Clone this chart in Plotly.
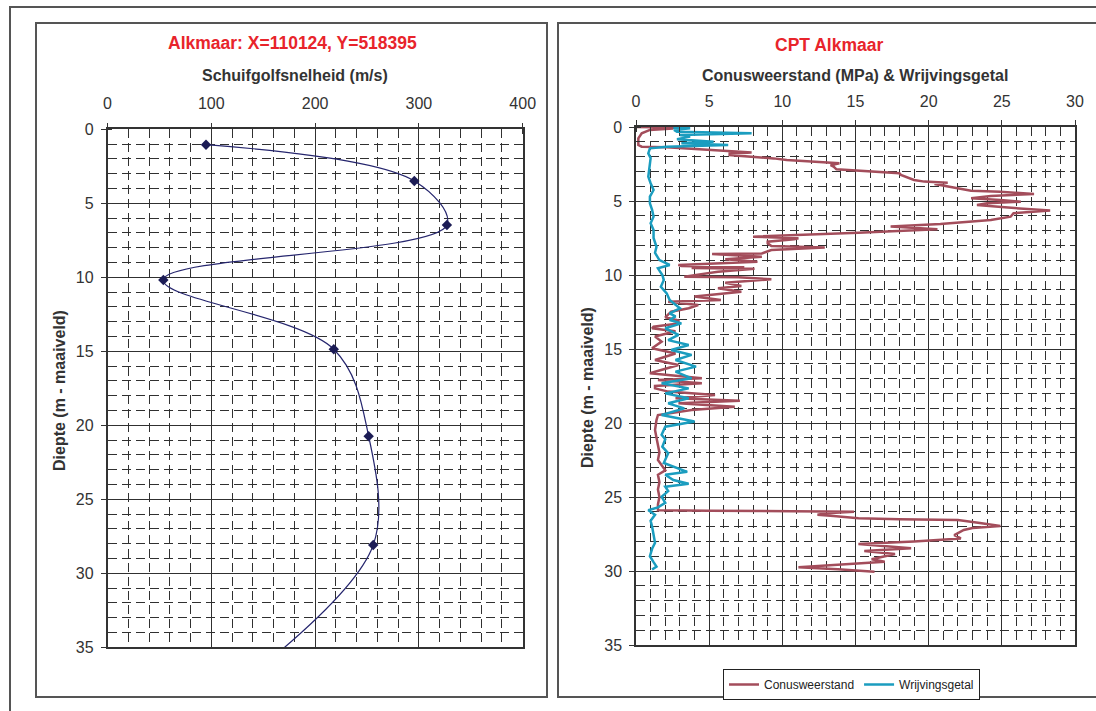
import plotly.graph_objects as go

# ---------------- data ----------------
# Left chart: shear-wave velocity profile
vs_depth = [1.04, 3.49, 6.47, 10.18, 14.86, 20.74, 28.09]
vs_value = [94.9, 295.6, 327.0, 53.8, 218.0, 251.6, 256.0]
# smoothed curve continues to the bottom of the chart
vs_curve_depth = vs_depth + [35.1]
vs_curve_value = vs_value + [169.0]

# Right chart: CPT Conusweerstand (MPa)
qc_depth = [0.00, 0.03, 0.10, 0.20, 0.43, 0.77, 1.22, 1.33, 1.37, 1.44, 1.55, 1.67, 1.73, 1.80,
            1.89, 1.96, 2.12, 2.23, 2.34, 2.41, 2.45, 2.58, 2.68, 2.86, 2.95, 3.02, 3.13, 3.24,
            3.40, 3.58, 3.69, 3.76, 3.85, 4.05, 4.30, 4.37, 4.53, 4.66, 4.82, 4.93, 5.05, 5.15,
            5.27, 5.43, 5.65, 5.83, 6.06, 6.28, 6.55, 6.73, 6.91, 7.14, 7.30, 7.41, 7.52, 7.59,
            7.75, 7.86, 8.04, 8.15, 8.31, 8.54, 8.58, 8.76, 8.94, 9.10, 9.32, 9.40, 9.48, 9.52,
            9.58, 9.78, 10.11, 10.15, 10.29, 10.52, 10.74, 10.90, 11.13, 11.24, 11.46, 11.69,
            11.80, 12.03, 12.25, 12.48, 12.86, 13.08, 13.27, 13.49, 13.60, 13.72, 13.80, 14.16,
            14.50, 14.95, 15.30, 15.74, 16.08, 16.64, 16.98, 17.10, 17.32, 17.50, 17.66, 17.88,
            18.11, 18.33, 18.49, 18.67, 18.90, 19.12, 19.46, 19.80, 20.47, 21.00, 21.50, 22.00,
            22.50, 23.20, 23.50, 24.00, 24.50, 25.00, 25.50, 25.90, 25.93, 25.96, 25.99, 26.10,
            26.20, 26.28, 26.44, 26.50, 26.55, 26.75, 26.96, 27.10, 27.23, 27.57, 27.80, 28.00,
            28.18, 28.47, 28.65, 28.85, 29.21, 29.37, 29.60, 29.75, 29.89, 30.05]
qc_value = [0.0, 2.6, 2.5, 0.95, 0.39, 0.16, 0.16, 0.39, 2.1, 3.45, 5.05, 7.1, 7.9, 6.4,
            6.4, 7.5, 9.4, 10.3, 12.1, 13.5, 13.9, 13.3, 13.5, 13.7, 15.3, 16.9, 18.0, 18.1,
            18.6, 19.0, 19.7, 21.3, 20.4, 21.5, 22.9, 24.9, 27.2, 24.25, 22.9, 24.9, 26.3, 24.0,
            23.3, 25.2, 28.3, 25.8, 25.6, 24.25, 20.8, 17.4, 20.6, 15.2, 11.1, 8.0, 11.1, 10.8,
            9.0, 9.0, 9.25, 12.9, 9.25, 8.6, 5.2, 8.6, 6.1, 8.3, 2.9, 3.1, 7.4, 3.8,
            8.1, 5.6, 3.3, 7.0, 9.25, 6.1, 7.2, 5.6, 7.2, 6.1, 4.0, 5.8,
            2.2, 4.25, 3.6, 2.4, 2.0, 2.9, 2.9, 1.2, 1.1, 2.0, 2.7, 1.3,
            1.75, 1.1, 2.7, 1.3, 2.9, 0.95, 4.5, 1.5, 4.5, 1.3, 1.3, 2.2,
            5.4, 2.7, 7.1, 2.9, 6.75, 3.8, 1.5, 1.4, 1.3, 1.4, 1.5, 1.6,
            1.5, 2.0, 1.5, 1.6, 1.5, 1.6, 1.5, 1.5, 5.0, 10.0, 14.9, 13.0,
            12.4, 13.5, 15.2, 18.0, 22.0, 23.5, 24.9, 23.0, 22.4, 21.75, 22.2, 19.0,
            15.2, 18.8, 15.6, 17.7, 16.1, 17.0, 13.8, 11.1, 13.8, 16.3]

# Right chart: CPT Wrijvingsgetal
rf_depth = [0.05, 0.08, 0.20, 0.32, 0.43, 0.54, 0.65, 0.83, 0.99, 1.10, 1.22, 1.33, 1.44, 1.78,
            2.10, 2.45, 2.80, 3.36, 3.80, 4.26, 4.70, 5.16, 5.60, 6.06, 6.50, 6.96, 7.50, 8.09,
            8.50, 8.99, 9.32, 9.55, 10.00, 10.34, 10.80, 11.24, 11.69, 12.25, 12.59, 12.80, 13.04,
            13.27, 13.60, 14.05, 14.40, 14.73, 15.07, 15.40, 15.74, 16.19, 16.53, 16.98, 17.32,
            17.66, 18.00, 18.33, 18.67, 19.01, 19.46, 19.90, 20.25, 20.80, 21.10, 21.60, 22.05,
            22.70, 23.30, 23.50, 23.85, 24.10, 24.30, 24.60, 24.98, 25.40, 25.70, 25.90, 26.20,
            26.60, 27.00, 27.50, 28.10, 28.50, 29.00, 29.40, 29.70, 29.90]
rf_value = [2.55, 3.7, 2.6, 2.8, 7.9, 3.0, 3.7, 2.8, 5.3, 3.1, 6.3, 2.1, 0.95, 0.84,
            1.0, 0.95, 0.9, 0.84, 1.0, 1.2, 0.95, 0.95, 1.1, 1.2, 1.0, 1.2, 1.2, 1.4,
            1.3, 1.6, 2.3, 1.5, 1.8, 1.9, 1.7, 2.1, 2.3, 3.0, 2.3, 2.7, 2.3,
            3.1, 2.0, 2.9, 2.2, 3.6, 2.4, 3.8, 2.7, 4.1, 2.7, 3.8, 1.75,
            3.6, 2.0, 3.6, 2.2, 3.3, 1.75, 4.0, 2.0, 1.75, 2.0, 1.8, 2.2,
            1.9, 3.5, 2.0, 2.55, 3.6, 2.0, 2.2, 1.75, 2.0, 1.5, 0.84, 1.3,
            1.0, 1.1, 1.2, 1.3, 1.1, 0.95, 1.2, 1.4, 1.1]

# ---------------- layout helpers ----------------
W, H = 1096, 711
FONT = "Liberation Sans, Arial, sans-serif"
GRID = "#303030"


def px(x):
    return x / W


def py(y):
    return 1 - y / H


fig = go.Figure()

fig.add_trace(go.Scatter(x=vs_curve_value, y=vs_curve_depth, mode="lines",
                         line=dict(color="#26266e", width=1.2, shape="spline", smoothing=1.0),
                         showlegend=False, xaxis="x", yaxis="y", hoverinfo="skip"))
fig.add_trace(go.Scatter(x=vs_value, y=vs_depth, mode="markers",
                         marker=dict(symbol="diamond", size=8, color="#1c1c55"),
                         showlegend=False, xaxis="x", yaxis="y"))

fig.add_trace(go.Scatter(x=qc_value, y=qc_depth, mode="lines", name="Conusweerstand",
                         line=dict(color="#a34d5b", width=2.5), xaxis="x2", yaxis="y2"))
fig.add_trace(go.Scatter(x=rf_value, y=rf_depth, mode="lines", name="Wrijvingsgetal",
                         line=dict(color="#1b9dbf", width=2.5), xaxis="x2", yaxis="y2"))


def xax(domain, rng, dtick, minor_dtick):
    return dict(domain=domain, range=rng, side="top", dtick=dtick, tick0=0,
                showgrid=True, gridcolor=GRID, gridwidth=1, zeroline=False,
                showline=True, linecolor="#333", linewidth=1.5, mirror=True,
                ticks="outside", ticklen=5, tickcolor="#333", ticklabelstandoff=7,
                tickfont=dict(family=FONT, size=16, color="#333"),
                minor=dict(dtick=minor_dtick, tick0=0, showgrid=True, gridcolor=GRID,
                           griddash="9px,5px", gridwidth=1, ticks="inside", ticklen=5,
                           tickcolor="#333"),
                automargin=False, fixedrange=True)


def yax(domain, anchor):
    return dict(domain=domain, range=[35, 0], dtick=5, tick0=0, anchor=anchor,
                showgrid=True, gridcolor=GRID, gridwidth=1, zeroline=False,
                showline=True, linecolor="#333", linewidth=1.5, mirror=True,
                ticks="outside", ticklen=5, tickcolor="#333", ticklabelstandoff=4,
                tickfont=dict(family=FONT, size=16, color="#333"),
                minor=dict(dtick=1, tick0=0, showgrid=True, gridcolor=GRID,
                           griddash="9px,5px", gridwidth=1, ticks="inside", ticklen=5,
                           tickcolor="#333"),
                automargin=False, fixedrange=True)


L = (107.5, 522.7, 129.3, 647.3)
R = (636.0, 1075.0, 127.0, 645.0)

fig.update_layout(
    width=W, height=H,
    margin=dict(l=0, r=0, t=0, b=0),
    paper_bgcolor="white", plot_bgcolor="white",
    xaxis=dict(xax([px(L[0]), px(L[1])], [0, 400], 100, 20), anchor="y"),
    yaxis=yax([py(L[3]), py(L[2])], "x"),
    xaxis2=dict(xax([px(R[0]), px(R[1])], [0, 30], 5, 1), anchor="y2"),
    yaxis2=yax([py(R[3]), py(R[2])], "x2"),
    showlegend=True,
    legend=dict(orientation="h", x=px(723), y=py(669), xanchor="left", yanchor="top",
                bordercolor="#222", borderwidth=1, bgcolor="white",
                font=dict(family=FONT, size=12, color="#222"), itemwidth=30,
                tracegroupgap=0),
    font=dict(family=FONT),
)

# frames
frame_color = "#555"
shapes = [
    dict(type="rect", xref="paper", yref="paper", x0=px(10), x1=px(1110), y0=py(720), y1=py(7),
         line=dict(color=frame_color, width=2), fillcolor="rgba(0,0,0,0)", layer="below"),
    dict(type="rect", xref="paper", yref="paper", x0=px(36), x1=px(547), y0=py(697), y1=py(23),
         line=dict(color=frame_color, width=2), fillcolor="rgba(0,0,0,0)", layer="below"),
    dict(type="rect", xref="paper", yref="paper", x0=px(558), x1=px(1110), y0=py(697), y1=py(23),
         line=dict(color=frame_color, width=2), fillcolor="rgba(0,0,0,0)", layer="below"),
]
fig.update_layout(shapes=shapes)

RED = "#e8242b"
ann = [
    dict(text="<b>Alkmaar: X=110124, Y=518395</b>", x=px(292), y=py(43), font=dict(size=17.5, color=RED)),
    dict(text="<b>Schuifgolfsnelheid (m/s)</b>", x=px(295), y=py(75), font=dict(size=16, color="#333")),
    dict(text="<b>CPT Alkmaar</b>", x=px(829), y=py(45), font=dict(size=17.5, color=RED)),
    dict(text="<b>Conusweerstand (MPa) &amp; Wrijvingsgetal</b>", x=px(855), y=py(76),
         font=dict(size=16, color="#333")),
    dict(text="<b>Diepte (m - maaiveld)</b>", x=px(59), y=py(390), textangle=-90,
         font=dict(size=16, color="#333")),
    dict(text="<b>Diepte (m - maaiveld)</b>", x=px(588), y=py(388), textangle=-90,
         font=dict(size=16, color="#333")),
]
for a in ann:
    a.update(xref="paper", yref="paper", showarrow=False, xanchor="center", yanchor="middle")
    a["font"]["family"] = FONT
fig.update_layout(annotations=ann)

fig.write_html("out.html")
